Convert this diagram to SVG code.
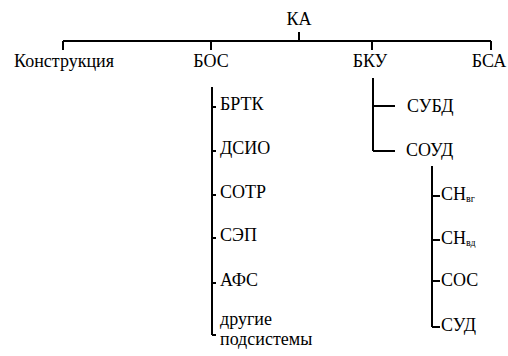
<svg xmlns="http://www.w3.org/2000/svg" width="508" height="356" viewBox="0 0 508 356">
<rect width="508" height="356" fill="#fff"/>
<g id="connectors" stroke="#000" stroke-width="2" fill="none">
<path d="M299,32V41M63,41H491M63,41V50M211,41V50M372,41V50M491,41V50"/>
<path d="M212,87V335M212,107H216M212,151H216M212,195H216M212,238H216M212,283H216M212,335H216"/>
<path d="M373,78V151M373,106H395M373,151H395"/>
<path d="M432,166V327M432,196H440M432,240H440M432,281H440M432,327H440"/>
</g>
<g id="n-ka"><text font-family="Times New Roman" font-size="18" text-anchor="middle" x="299" y="25">КА</text></g>
<g id="n-konstr"><text font-family="Times New Roman" font-size="18" text-anchor="middle" x="64" y="67">Конструкция</text></g>
<g id="n-bos"><text font-family="Times New Roman" font-size="18" text-anchor="middle" x="211" y="67">БОС</text></g>
<g id="n-bku"><text font-family="Times New Roman" font-size="18" text-anchor="middle" x="370" y="67">БКУ</text></g>
<g id="n-bsa"><text font-family="Times New Roman" font-size="18" text-anchor="middle" x="489" y="67">БСА</text></g>
<g id="n-brtk"><text font-family="Times New Roman" font-size="18" x="220" y="110">БРТК</text></g>
<g id="n-dsio"><text font-family="Times New Roman" font-size="18" x="220" y="154">ДСИО</text></g>
<g id="n-sotr"><text font-family="Times New Roman" font-size="18" x="220" y="198">СОТР</text></g>
<g id="n-sep"><text font-family="Times New Roman" font-size="18" x="220" y="241">СЭП</text></g>
<g id="n-afs"><text font-family="Times New Roman" font-size="18" x="220" y="286">АФС</text></g>
<g id="n-other"><text font-family="Times New Roman" font-size="18" x="220" y="325">другие</text><text font-family="Times New Roman" font-size="18" x="220" y="345">подсистемы</text></g>
<g id="n-subd"><text font-family="Times New Roman" font-size="18" x="407" y="112">СУБД</text></g>
<g id="n-soud"><text font-family="Times New Roman" font-size="18" x="406" y="156">СОУД</text></g>
<g id="n-snvg"><text font-family="Times New Roman" font-size="18" x="441" y="200">СН<tspan font-size="10" dy="2">вг</tspan></text></g>
<g id="n-snvd"><text font-family="Times New Roman" font-size="18" x="441" y="244">СН<tspan font-size="10" dy="2">вд</tspan></text></g>
<g id="n-sos"><text font-family="Times New Roman" font-size="18" x="441" y="286">СОС</text></g>
<g id="n-sud"><text font-family="Times New Roman" font-size="18" x="441" y="331">СУД</text></g>
</svg>
